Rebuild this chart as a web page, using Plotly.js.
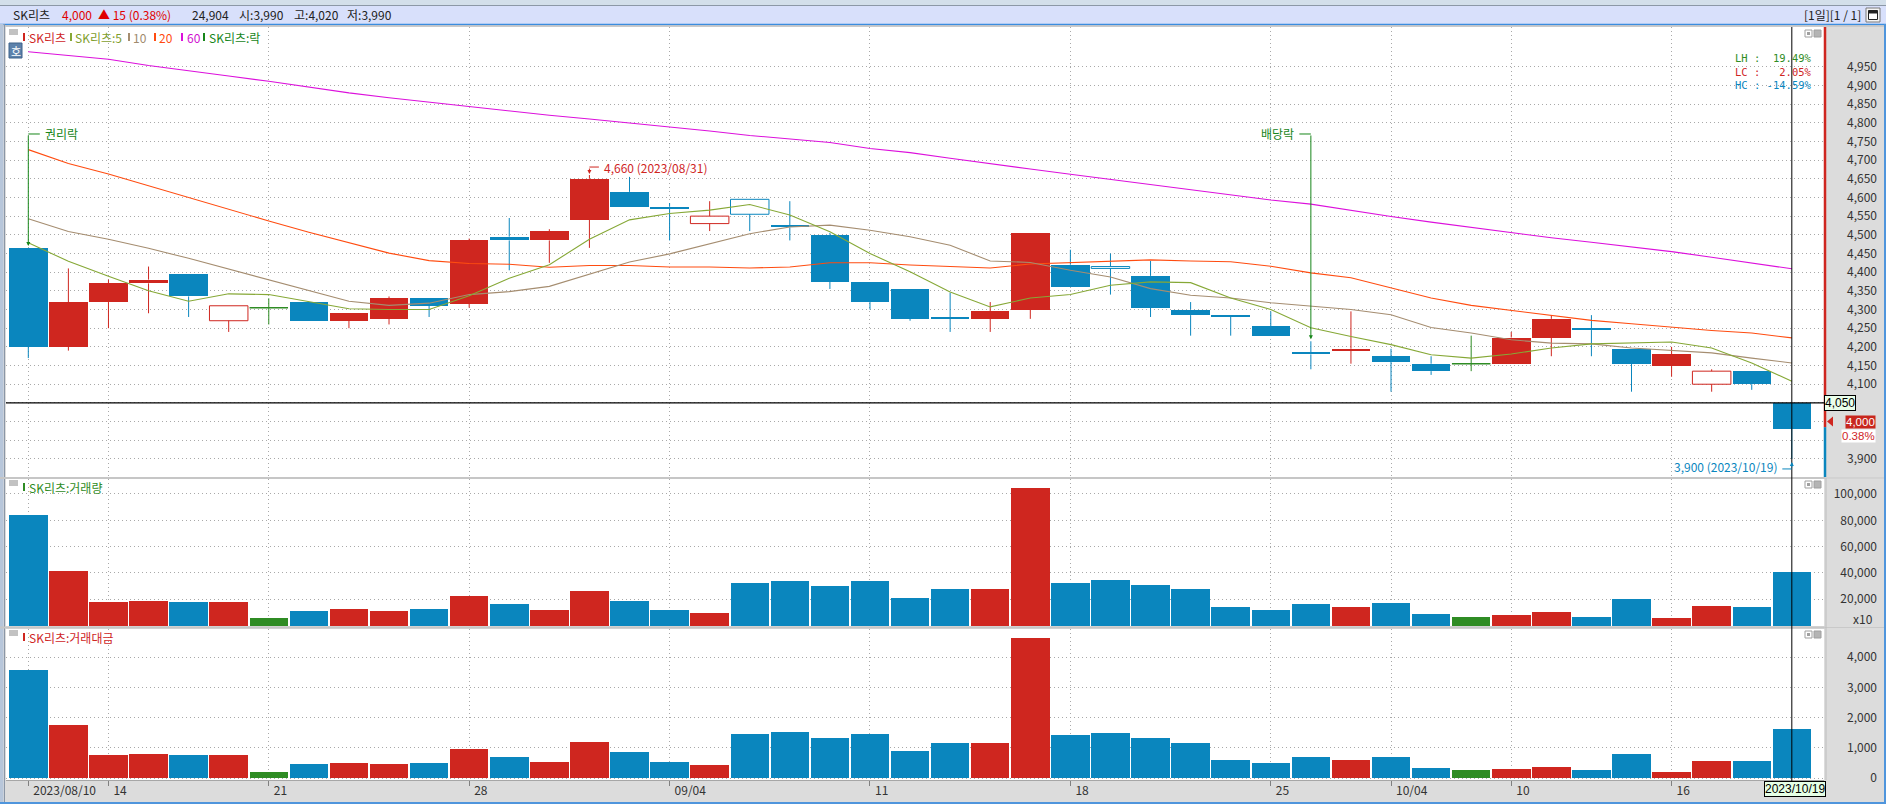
<!DOCTYPE html>
<html><head><meta charset="utf-8">
<script src="https://cdn.plot.ly/plotly-3.0.1.min.js"></script>
<style>html,body{margin:0;padding:0;background:#dcdcdc;overflow:hidden}#chart{width:1886px;height:804px}</style>
</head><body><div id="chart"></div>
<script>
// ---------------- data ----------------
const dates = ['2023/08/10','2023/08/11','2023/08/14','2023/08/16','2023/08/17','2023/08/18','2023/08/21','2023/08/22','2023/08/23','2023/08/24','2023/08/25','2023/08/28','2023/08/29','2023/08/30','2023/08/31','2023/09/01','2023/09/04','2023/09/05','2023/09/06','2023/09/07','2023/09/08','2023/09/11','2023/09/12','2023/09/13','2023/09/14','2023/09/15','2023/09/18','2023/09/19','2023/09/20','2023/09/21','2023/09/22','2023/09/25','2023/09/26','2023/09/27','2023/10/04','2023/10/05','2023/10/06','2023/10/10','2023/10/11','2023/10/12','2023/10/13','2023/10/16','2023/10/17','2023/10/18','2023/10/19'];
const openP  = [4465,4200,4320,4370,4395,4270,4305,4320,4270,4275,4330,4315,4495,4485,4540,4615,4575,4530,4595,4525,4500,4375,4355,4280,4275,4300,4420,4415,4390,4300,4285,4255,4185,4190,4175,4155,4155,4155,4225,4250,4195,4150,4100,4135,4050];
const highP  = [4465,4410,4380,4415,4395,4310,4330,4320,4290,4335,4330,4490,4545,4515,4660,4655,4585,4590,4595,4590,4505,4375,4355,4345,4320,4505,4460,4450,4430,4320,4285,4295,4215,4295,4195,4175,4230,4240,4285,4285,4195,4200,4140,4135,4050];
const lowP   = [4170,4190,4250,4290,4280,4240,4260,4270,4250,4260,4280,4305,4405,4425,4465,4575,4485,4510,4510,4485,4355,4300,4270,4240,4240,4275,4360,4340,4280,4230,4230,4230,4140,4155,4080,4125,4135,4155,4175,4175,4080,4120,4080,4085,3900];
const closeP = [4200,4320,4370,4380,4335,4310,4305,4270,4290,4330,4310,4485,4485,4510,4650,4575,4570,4550,4555,4520,4375,4320,4275,4275,4295,4505,4360,4410,4305,4285,4280,4230,4180,4195,4160,4135,4155,4225,4275,4245,4155,4180,4135,4100,3980];
const ma5  = [4479,4429,4389,4350,4322,4342,4340,4322,4302,4300,4300,4337,4384,4420,4488,4540,4557,4566,4581,4553,4508,4450,4401,4347,4307,4331,4340,4365,4374,4372,4331,4300,4251,4228,4206,4179,4170,4181,4197,4208,4210,4213,4197,4157,4108];
const ma10 = [4543,4509,4488,4464,4437,4408,4380,4350,4322,4311,4317,4340,4348,4362,4395,4427,4449,4475,4503,4521,4526,4512,4495,4472,4430,4426,4405,4387,4356,4338,4331,4318,4309,4300,4286,4252,4237,4219,4210,4208,4197,4191,4184,4170,4157];
const ma20 = [4728,4691,4663,4631,4600,4568,4537,4507,4480,4451,4431,4423,4421,4413,4418,4418,4414,4414,4411,4414,4425,4425,4419,4414,4411,4422,4425,4430,4433,4430,4428,4416,4398,4385,4358,4331,4311,4297,4284,4271,4262,4252,4244,4237,4224];
const ma60 = [4990,4980,4970,4953,4938,4925,4911,4895,4880,4867,4855,4842,4830,4820,4810,4800,4790,4778,4766,4757,4747,4731,4720,4705,4690,4676,4662,4648,4635,4620,4605,4593,4582,4565,4549,4534,4520,4505,4492,4480,4468,4455,4440,4425,4409];
const volume = [84000,41500,18000,18700,18000,18000,5800,11100,12700,11100,12700,22500,16500,11900,26300,18700,11900,9600,32400,33900,30100,33900,21000,27900,27900,104600,32400,34700,30900,27900,14200,11900,16500,14200,17200,8900,6600,8100,10400,6600,20300,5800,14900,14200,40800];
const tradeValue = [3576,1749,753,786,753,753,221,454,487,454,487,952,686,520,1184,852,520,421,1450,1517,1317,1450,886,1151,1151,4638,1417,1483,1317,1151,587,487,686,587,686,354,255,321,387,255,786,221,553,553,1616];
const tickDates  = ['2023/08/10','2023/08/14','2023/08/21','2023/08/28','2023/09/04','2023/09/11','2023/09/18','2023/09/25','2023/10/04','2023/10/10','2023/10/16'];
const tickLabels = ['2023/08/10','14','21','28','09/04','11','18','25','10/04','10','16'];
const priceTicks = [3900,3950,4000,4050,4100,4150,4200,4250,4300,4350,4400,4450,4500,4550,4600,4650,4700,4750,4800,4850,4900,4950];
const volTicks = [20000,40000,60000,80000,100000];
const valTicks = [0,1000,2000,3000,4000];
const eventDates  = ['2023/08/10','2023/09/26'];
const eventLabels = ['권리락','배당락'];
const stockName = 'SK리츠';
const quotePrice = 4000, quoteChange = 15, quoteRate = '0.38%';
const quoteVolume = '24,904', quoteOpen = '3,990', quoteHigh = '4,020', quoteLow = '3,990';
const cursorPrice = 4050;

// ---------------- style / geometry ----------------
const W = 1886, H = 804;
const FONT = '"Noto Sans CJK KR", "Noto Sans", sans-serif';
const LAT = '"Liberation Sans", Arial, sans-serif';
const MONO = '"DejaVu Sans Mono", "Liberation Mono", monospace';
const RED = '#cf261f', BLUE = '#0a86be', GREEN = '#2f8c24';
const EVT = '#17861a';
const PX = x => x / W, PY = y => 1 - y / H;
const X0 = 6, X1 = 1824, C0 = 28.3, CW = 40.08;
const P_TOP = 27, P_BOT = 477;
const pAt = y => 4950 - (y - 66.7) / 0.37357;     // price at pixel
const yPix = p => 66.7 + (4950 - p) * 0.37357;    // pixel of price
const vAt = y => (625.6 - y) * 759.7;
const tAt = y => (778.2 - y) * 33.08;
const idx = dates.map((d, i) => i);
const fmt = n => n.toLocaleString('en-US');

const colorOf = i => closeP[i] > openP[i] ? RED : (closeP[i] < openP[i] ? BLUE : GREEN);
const hollow = i => {
  if (i === 0) return false;
  const pc = closeP[i - 1];
  return (closeP[i] > openP[i] && closeP[i] < pc) || (closeP[i] < openP[i] && closeP[i] > pc);
};

// ---------------- traces ----------------
const traces = [];
const wicks = {}; [RED, BLUE, GREEN].forEach(c => wicks[c] = {x: [], y: []});
const doji = {x: [], y: []};
idx.forEach(i => {
  const c = colorOf(i), top = Math.max(openP[i], closeP[i]), bot = Math.min(openP[i], closeP[i]);
  if (highP[i] > top) { wicks[c].x.push(i, i, null); wicks[c].y.push(top, highP[i], null); }
  if (lowP[i] < bot)  { wicks[c].x.push(i, i, null); wicks[c].y.push(lowP[i], bot, null); }
  if (c === GREEN) { doji.x.push(i - 0.48, i + 0.48, null); doji.y.push(openP[i], openP[i], null); }
});
[RED, BLUE, GREEN].forEach(c => traces.push({type: 'scatter', mode: 'lines', x: wicks[c].x, y: wicks[c].y,
  line: {color: c, width: 1}, hoverinfo: 'skip', xaxis: 'x', yaxis: 'y'}));
traces.push({type: 'scatter', mode: 'lines', x: doji.x, y: doji.y, line: {color: GREEN, width: 1.5}, hoverinfo: 'skip'});

const groups = [
  {c: RED, h: false}, {c: BLUE, h: false}, {c: RED, h: true}, {c: BLUE, h: true}
];
groups.forEach(g => {
  const sel = idx.filter(i => colorOf(i) === g.c && hollow(i) === g.h);
  traces.push({type: 'bar', x: sel, y: sel.map(i => Math.abs(closeP[i] - openP[i])),
    base: sel.map(i => Math.min(openP[i], closeP[i])), width: 0.96,
    marker: {color: g.h ? '#ffffff' : g.c, line: {color: g.c, width: g.h ? 1 : 0}},
    hoverinfo: 'skip', xaxis: 'x', yaxis: 'y'});
});
[[ma60, '#dc10dc'], [ma20, '#ff4c10'], [ma10, '#a58d70'], [ma5, '#86a836']].forEach(([m, c]) =>
  traces.push({type: 'scatter', mode: 'lines', x: idx, y: m, line: {color: c, width: 1.1}, hoverinfo: 'skip', xaxis: 'x', yaxis: 'y'}));

traces.push({type: 'bar', x: idx, y: volume, width: 0.96, marker: {color: idx.map(colorOf), line: {width: 0}},
  hoverinfo: 'skip', xaxis: 'x', yaxis: 'y2'});
traces.push({type: 'bar', x: idx, y: tradeValue, width: 0.96, marker: {color: idx.map(colorOf), line: {width: 0}},
  hoverinfo: 'skip', xaxis: 'x', yaxis: 'y3'});

// ---------------- layout ----------------
const gridStyle = {showgrid: true, gridcolor: '#a9a9a9', griddash: '1px,3px', gridwidth: 1, zeroline: false, showline: false};
const yCommon = Object.assign({side: 'left', anchor: 'free', position: PX(1877), ticks: '', tickformat: ',d',
  tickfont: {family: FONT, size: 12, color: '#333'}, fixedrange: true}, gridStyle);

const shapes = [];
const rect = (x0, y0, x1, y1, fill, line, lw, layer) => shapes.push({type: 'rect', xref: 'paper', yref: 'paper',
  x0: PX(x0), x1: PX(x1), y0: PY(y1), y1: PY(y0), fillcolor: fill, line: {color: line || fill, width: lw || 0}, layer: layer || 'above'});
const hline = (x0, x1, y, color, w, layer) => shapes.push({type: 'line', xref: 'paper', yref: 'paper',
  x0: PX(x0), x1: PX(x1), y0: PY(y), y1: PY(y), line: {color, width: w || 1}, layer: layer || 'above'});
const vline = (x, y0, y1, color, w, layer) => shapes.push({type: 'line', xref: 'paper', yref: 'paper',
  x0: PX(x), x1: PX(x), y0: PY(y0), y1: PY(y1), line: {color, width: w || 1}, layer: layer || 'above'});

// header
rect(0, 0, W, 5, '#d3dfea', null, 0, 'below');
hline(0, W, 5.5, '#8c98a6', 1);
rect(0, 6, W, 24, '#d8e0fb', null, 0, 'below');
hline(0, W, 24.5, '#3b8ddf', 1.5);
hline(0, W, 26, '#c4c4c4', 1.5);
// borders
rect(0, 24, 3.5, H, '#b7c6da');
vline(4.5, 24, H, '#8a96a6', 1);
vline(1885, 24, H, '#4f95dc', 2);
hline(0, W, 803, '#4f95dc', 2);
// panel separators
hline(0, X1 + 1, 478, '#c6c6c6', 2);
hline(0, X1 + 1, 627.5, '#c6c6c6', 2);
hline(X1, 1884, 478, '#c9c9c9', 1);
hline(X1, 1884, 627.5, '#c9c9c9', 1);
// colored price strip at right edge of price panel (above/below previous close)
const prevClose = quotePrice - quoteChange;
shapes.push({type: 'line', xref: 'paper', yref: 'y', x0: PX(1825), x1: PX(1825), y0: prevClose, y1: pAt(P_TOP), line: {color: RED, width: 2.5}});
shapes.push({type: 'line', xref: 'paper', yref: 'y', x0: PX(1825), x1: PX(1825), y0: pAt(P_BOT), y1: prevClose, line: {color: BLUE, width: 2.5}});
vline(1826, 478, 780, '#bdbdbd', 1);
// crosshair
shapes.push({type: 'line', xref: 'x', yref: 'paper', x0: idx[idx.length - 1], x1: idx[idx.length - 1], y0: PY(781), y1: PY(P_TOP), line: {color: '#000', width: 1}});
shapes.push({type: 'line', xref: 'paper', yref: 'y', x0: PX(X0), x1: PX(X1), y0: cursorPrice, y1: cursorPrice, line: {color: '#000', width: 1.2}});
// panel corner icons and legend squares
[30, 481, 631].forEach(t => {
  rect(1805, t, 1812, t + 7, '#ffffff', '#a0a0a0', 1);
  rect(1807, t + 2, 1810, t + 5, '#a0a0a0');
  rect(1814, t, 1821, t + 7, '#b4b4b4', '#a0a0a0', 1);
  rect(9, t - 1, 18, t + 5, '#c2c2c2');
});
// header right icon
rect(1866, 8, 1880, 22, '#f4f4f4', '#7a7a7a', 1);
rect(1868.5, 10.5, 1877.5, 19.5, '#ffffff', '#222', 1);
rect(1868.5, 10.5, 1877.5, 13.5, '#222');
// "호" box
rect(9, 43, 22, 58, '#5d82ab', '#3f628a', 1);
// legend colour ticks
const legendMarks = [[23, RED], [70, '#86a836'], [128, '#a58d70'], [154, '#ff4c10'], [181, '#dc10dc'], [203, EVT]];
legendMarks.forEach(([x, c]) => rect(x, 33, x + 2, 41, c));
rect(23, 483, 25, 491, GREEN);
rect(23, 633, 25, 641, RED);
// current price marker triangle
shapes.push({type: 'path', xref: 'paper', yref: 'paper',
  path: `M ${PX(1827)} ${PY(yPix(quotePrice))} L ${PX(1833)} ${PY(yPix(quotePrice) - 5)} L ${PX(1833)} ${PY(yPix(quotePrice) + 5)} Z`,
  fillcolor: RED, line: {width: 0}});

// annotations
const A = [];
const txt = (x, y, text, color, anchor, size, extra) => A.push(Object.assign({xref: 'paper', yref: 'paper', x: PX(x), y: PY(y),
  text, showarrow: false, xanchor: anchor || 'left', yanchor: 'middle', font: {family: FONT, size: size || 12, color: color || '#222'}}, extra || {}));

txt(11, 15, stockName, '#222');
txt(60, 15, fmt(quotePrice), '#e00000');
txt(96, 15, '▲ ' + quoteChange + ' (' + quoteRate + ')', '#e00000');
txt(190, 15, quoteVolume, '#222');
txt(237, 15, '시:' + quoteOpen, '#222');
txt(292, 15, '고:' + quoteHigh, '#222');
txt(345, 15, '저:' + quoteLow, '#222');
txt(1863, 15, '[1일][1 / 1]', '#222', 'right');
txt(15.5, 50.5, '호', '#ffffff', 'center', 11);

txt(27, 37, stockName, RED);
txt(73, 37, stockName + ':5', '#7f9e2e');
txt(131, 37, '10', '#a08a6c');
txt(157, 37, '20', '#ff4a10');
txt(185, 37, '60', '#d010d0');
txt(207, 37, stockName + ':락', EVT);
txt(27, 487, stockName + ':거래량', GREEN);
txt(27, 637, stockName + ':거래대금', RED);
txt(1875, 618, 'x10', '#333', 'right');

// event (ex-rights / ex-dividend) markers
const LABEL_ROW = 134;
eventDates.forEach((d, k) => {
  const i = dates.indexOf(d);
  const dy = yPix(highP[i]) - LABEL_ROW;
  const dir = (i < dates.length / 2) ? 1 : -1;
  A.push({xref: 'x', yref: 'y', x: i, y: highP[i], text: '', showarrow: true, ax: 0, ay: -dy, arrowhead: 2, arrowsize: 0.8, arrowwidth: 1, arrowcolor: EVT, standoff: 2});
  A.push({xref: 'x', yref: 'y', x: i, y: highP[i], yshift: dy, text: '', showarrow: true, ax: 13 * dir, ay: 0, arrowhead: 0, arrowwidth: 1, arrowcolor: EVT});
  A.push({xref: 'x', yref: 'y', x: i, y: highP[i], yshift: dy, xshift: 15 * dir, text: eventLabels[k], showarrow: false,
    xanchor: dir > 0 ? 'left' : 'right', yanchor: 'middle', font: {family: FONT, size: 12, color: EVT}});
});

// highest high / lowest low markers
const maxH = Math.max(...highP), minL = Math.min(...lowP);
const iMax = highP.indexOf(maxH), iMin = lowP.indexOf(minL);
A.push({xref: 'x', yref: 'y', x: iMax, y: maxH, text: '', showarrow: true, ax: 0, ay: -8, arrowhead: 2, arrowsize: 0.8, arrowwidth: 1, arrowcolor: RED, standoff: 1});
A.push({xref: 'x', yref: 'y', x: iMax, y: maxH, yshift: 8, text: '', showarrow: true, ax: 11, ay: 0, arrowhead: 0, arrowwidth: 1, arrowcolor: RED});
A.push({xref: 'x', yref: 'y', x: iMax, y: maxH, yshift: 8, xshift: 13, text: fmt(maxH) + ' (' + dates[iMax] + ')', showarrow: false,
  xanchor: 'left', yanchor: 'middle', font: {family: FONT, size: 12, color: RED}});
A.push({xref: 'x', yref: 'y', x: iMin, y: minL, text: '', showarrow: true, ax: 0, ay: 10, arrowhead: 2, arrowsize: 0.8, arrowwidth: 1, arrowcolor: BLUE, standoff: 3});
A.push({xref: 'x', yref: 'y', x: iMin, y: minL, yshift: -10, text: '', showarrow: true, ax: -11, ay: 0, arrowhead: 0, arrowwidth: 1, arrowcolor: BLUE});
A.push({xref: 'x', yref: 'y', x: iMin, y: minL, yshift: -8, xshift: -13, text: fmt(minL) + ' (' + dates[iMin] + ')', showarrow: false,
  xanchor: 'right', yanchor: 'middle', font: {family: FONT, size: 12, color: BLUE}});

// LH / LC / HC block (monospace, one annotation, three coloured lines)
const lastC = closeP[closeP.length - 1];
const pct = v => v.toFixed(2) + '%';
const pad = (s, n) => '\u00a0'.repeat(Math.max(0, n - s.length)) + s;
const statRows = [['LH', pct((maxH - minL) / minL * 100), '#2f8c24'],
                  ['LC', pct((lastC - minL) / minL * 100), RED],
                  ['HC', pct((lastC - maxH) / maxH * 100), BLUE]];
A.push({xref: 'paper', yref: 'paper', x: PX(1814), y: PY(50), xanchor: 'right', yanchor: 'top', align: 'right', showarrow: false,
  text: statRows.map(([l, v, c]) => `<span style="color:${c}">${l}\u00a0:\u00a0${pad(v, 7)}</span>`).join('<br>'),
  font: {family: MONO, size: 10.5, color: '#333'}});

// cursor / current price labels
A.push({xref: 'paper', yref: 'y', x: PX(1824), y: cursorPrice, text: fmt(cursorPrice), showarrow: false, xanchor: 'left', yanchor: 'middle',
  bgcolor: '#eaffea', bordercolor: '#000', borderwidth: 1, borderpad: 0, font: {family: LAT, size: 12, color: '#000'}});
A.push({xref: 'paper', yref: 'y', x: PX(1876), y: quotePrice, text: fmt(quotePrice), showarrow: false, xanchor: 'right', yanchor: 'middle',
  bgcolor: '#c8261d', borderpad: 0, font: {family: LAT, size: 11.5, color: '#ffffff'}});
A.push({xref: 'paper', yref: 'y', x: PX(1876), y: quotePrice, yshift: -14, text: quoteRate, showarrow: false, xanchor: 'right', yanchor: 'middle',
  bgcolor: '#ffffff', borderpad: 0, font: {family: LAT, size: 11.5, color: RED}});
A.push({xref: 'x', yref: 'paper', x: idx[idx.length - 1], y: PY(789), xshift: 3, text: dates[dates.length - 1], showarrow: false,
  xanchor: 'center', yanchor: 'middle', bgcolor: '#e6ffe6', bordercolor: '#000', borderwidth: 1, borderpad: 0,
  font: {family: LAT, size: 12, color: '#000'}});

// price tick labels hidden where the cursor / current-price boxes cover them
const covered = [cursorPrice, quotePrice, quotePrice - 50];
const priceTickText = priceTicks.map(p => covered.includes(p) ? '' : fmt(p));

const layout = {
  width: W, height: H, margin: {l: 0, r: 0, t: 0, b: 0},
  paper_bgcolor: '#dcdcdc', plot_bgcolor: '#ffffff',
  showlegend: false, barmode: 'overlay', bargap: 0, hovermode: false,
  font: {family: FONT, size: 12, color: '#333'},
  xaxis: Object.assign({}, gridStyle, {domain: [PX(X0), PX(X1)], range: [(X0 - C0) / CW, (X1 - C0) / CW], anchor: 'y3',
    tickmode: 'array', tickvals: tickDates.map(d => dates.indexOf(d)), ticktext: tickLabels,
    ticks: 'outside', ticklen: 5, tickcolor: '#808080', ticklabelposition: 'outside right', ticklabelshift: 4,
    tickfont: {family: FONT, size: 12, color: '#333'}, showline: true, linecolor: '#a6a6a6', fixedrange: true}),
  yaxis: Object.assign({}, yCommon, {domain: [PY(P_BOT), PY(P_TOP)], range: [pAt(P_BOT), pAt(P_TOP)],
    tickmode: 'array', tickvals: priceTicks, ticktext: priceTickText}),
  yaxis2: Object.assign({}, yCommon, {domain: [PY(626), PY(479)], range: [vAt(626), vAt(479)], tickmode: 'array', tickvals: volTicks}),
  yaxis3: Object.assign({}, yCommon, {domain: [PY(780), PY(629)], range: [tAt(780), tAt(629)], tickmode: 'array', tickvals: valTicks}),
  shapes, annotations: A
};

Plotly.newPlot('chart', traces, layout, {staticPlot: true, displayModeBar: false});
</script></body></html>
